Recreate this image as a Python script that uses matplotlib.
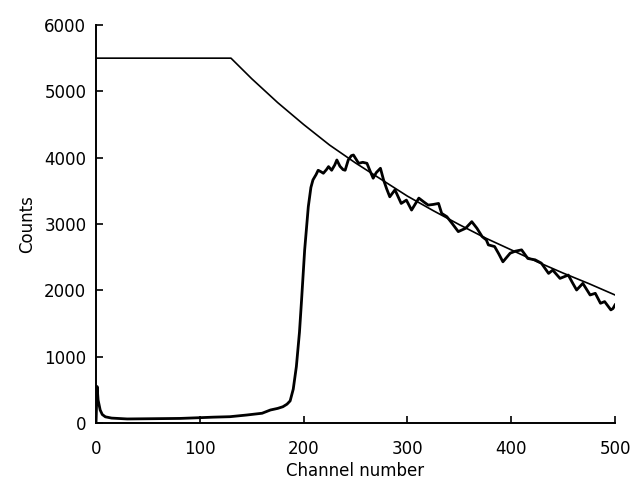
import matplotlib
matplotlib.use("Agg")
import matplotlib.pyplot as plt

# measured spectrum (channel, counts)
spec_ch = [0, 1, 2, 4, 6, 9, 15, 30, 50, 81, 100, 113, 129, 145, 160, 168, 175, 180,
           184, 187, 190, 193, 196, 198, 201, 204.5, 207, 209, 212, 214, 217, 219,
           222, 224, 227, 230, 232, 235, 238, 240, 243, 246, 248, 253, 257, 261,
           264, 267, 270, 274, 277, 280, 283, 288, 294, 299, 304, 311, 316, 320,
           325, 330, 333, 338, 343, 349, 356, 362, 367, 372, 376, 378, 384, 388,
           392, 399, 404, 410, 416, 423, 429, 436, 440, 447, 455, 459, 463, 469,
           476, 481, 486, 490, 496, 498, 500]
spec_counts = [0, 550, 345, 195, 128, 93, 74, 61, 64, 69, 80, 88, 95, 120, 147, 196,
               220, 245, 284, 333, 510, 850, 1370, 1850, 2610, 3260, 3550, 3665,
               3745, 3810, 3785, 3765, 3820, 3865, 3810, 3890, 3965, 3870, 3820,
               3810, 3965, 4030, 4040, 3915, 3930, 3915, 3800, 3690, 3775, 3840,
               3665, 3530, 3410, 3515, 3310, 3360, 3210, 3390, 3330, 3285, 3295,
               3310, 3160, 3110, 3010, 2885, 2935, 3035, 2935, 2810, 2760, 2685,
               2660, 2550, 2430, 2560, 2590, 2610, 2480, 2460, 2410, 2255, 2305,
               2180, 2230, 2115, 2005, 2105, 1930, 1955, 1805, 1830, 1705, 1725, 1780]

# fitted curve (channel, counts)
fit_ch = [0, 130, 150, 175, 200, 225, 250, 275, 300, 325, 350, 375, 400, 425, 450, 475, 500]
fit_counts = [5500, 5500, 5190, 4830, 4500, 4190, 3920, 3670, 3420, 3200, 2990,
              2790, 2610, 2430, 2260, 2100, 1930]

plt.rcParams["font.family"] = "DejaVu Sans"

fig = plt.figure(figsize=(6.36, 4.91), dpi=100)
ax = fig.add_axes([0.151, 0.1385, 0.816, 0.8106])

ax.plot(fit_ch, fit_counts, color="black", linewidth=1.2)
ax.plot(spec_ch, spec_counts, color="black", linewidth=2.0, solid_joinstyle="round")

ax.set_xlim(0, 500)
ax.set_ylim(0, 6000)
ax.set_xticks([0, 100, 200, 300, 400, 500])
ax.set_yticks([0, 1000, 2000, 3000, 4000, 5000, 6000])
ax.tick_params(direction="in", length=5, width=1.2, labelsize=12)
ax.tick_params(axis="x", pad=12)
ax.tick_params(axis="y", pad=7)
for s in ["top", "right"]:
    ax.spines[s].set_visible(False)
for s in ["left", "bottom"]:
    ax.spines[s].set_linewidth(1.4)

ax.set_xlabel("Channel number", fontsize=12, labelpad=3)
ax.set_ylabel("Counts", fontsize=12, labelpad=6)

fig.savefig("out.png", dpi=100)
